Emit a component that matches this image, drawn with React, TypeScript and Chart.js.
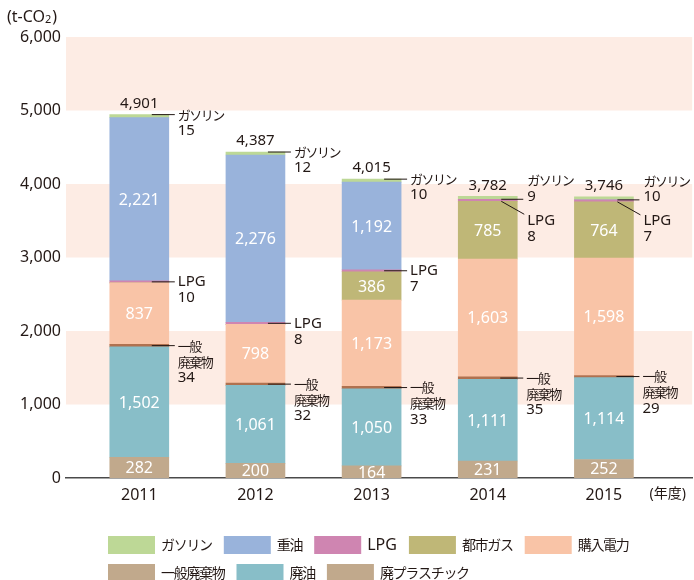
import React, { useEffect, useRef } from 'react';
import { Chart, registerables } from 'chart.js';

Chart.register(...registerables);

// ---- data ----
const years = ['2011', '2012', '2013', '2014', '2015'];
const yearUnit = '(年度)';
const seriesNames = ['廃プラスチック', '廃油', '一般廃棄物', '購入電力', '都市ガス', 'LPG', '重油', 'ガソリン'];
const haiPlastic = [282, 200, 164, 231, 252];
const haiYu = [1502, 1061, 1050, 1111, 1114];
const ippanHaikibutsu = [34, 32, 33, 35, 29];
const kounyuDenryoku = [837, 798, 1173, 1603, 1598];
const toshiGas = [0, 0, 386, 785, 764];
const lpg = [10, 8, 7, 8, 7];
const juyu = [2221, 2276, 1192, 0, 0];
const gasoline = [15, 12, 10, 9, 10];
const totals = [4901, 4387, 4015, 3782, 3746];
const yTickValues = [0, 1000, 2000, 3000, 4000, 5000, 6000];
const bandRanges = [[1000, 2000], [3000, 4000], [5000, 6000]];

// ---- styles ----
const barColors = ['#c1a98c', '#88bec8', '#b0714f', '#f9c4a7', '#bfb777', '#cf85b1', '#99b3db', '#bdd896'];
const legendColors = ['#c1a98c', '#88bec8', '#c1a98c', '#f9c4a7', '#bfb777', '#cf85b1', '#99b3db', '#bdd896'];
const minLengths = [0, 0, 0, 0, 0, 2, 0, 3];
const insideLabelSeries = [0, 1, 3, 4, 6];
const LATIN = '"Noto Sans", "Noto Sans CJK JP", sans-serif';
const CJKF = '"Noto Sans CJK JP", sans-serif';
const TEXT = '#231815';
const CJK_RE = /[\u3000-\u9fff\u30a0-\u30ff\uff00-\uffef]/;

const fmt = (v: number) => v.toLocaleString('en-US');
const seriesData = [haiPlastic, haiYu, ippanHaikibutsu, kounyuDenryoku, toshiGas, lpg, juyu, gasoline];

function drawText(ctx: CanvasRenderingContext2D, text: string, x: number, y: number, size: number, cjkSize: number, spacing: number, align: CanvasTextAlign = 'left', color = TEXT) {
  const isCjk = CJK_RE.test(text);
  ctx.font = isCjk ? `${cjkSize}px ${CJKF}` : `${size}px ${LATIN}`;
  (ctx as any).letterSpacing = isCjk ? `${spacing}px` : '0px';
  ctx.textAlign = align;
  ctx.textBaseline = 'middle';
  ctx.fillStyle = color;
  ctx.fillText(text, x, y);
  const w = ctx.measureText(text).width;
  (ctx as any).letterSpacing = '0px';
  return w;
}

function line(ctx: CanvasRenderingContext2D, x1: number, y1: number, x2: number, y2: number) {
  ctx.beginPath();
  ctx.moveTo(x1, y1);
  ctx.lineTo(x2, y2);
  ctx.strokeStyle = '#231815';
  ctx.lineWidth = 1;
  ctx.stroke();
}

const bandsPlugin = {
  id: 'bands',
  beforeDatasetsDraw(chart: any) {
    const { ctx, chartArea, scales } = chart;
    ctx.save();
    ctx.fillStyle = '#fdece4';
    bandRanges.forEach(([a, b]) => {
      const y1 = scales.y.getPixelForValue(b);
      const y2 = scales.y.getPixelForValue(a);
      ctx.fillRect(chartArea.left, y1, chartArea.right - chartArea.left, y2 - y1);
    });
    ctx.restore();
  },
};

const labelsPlugin = {
  id: 'labels',
  afterDatasetsDraw(chart: any) {
    const { ctx, chartArea } = chart;
    ctx.save();
    // inside values
    insideLabelSeries.forEach((d) => {
      const meta = chart.getDatasetMeta(d);
      meta.data.forEach((el: any, i: number) => {
        const v = seriesData[d][i];
        if (!v) return;
        drawText(ctx, fmt(v), el.x, (el.y + el.base) / 2 + 1, 16, 16, 0, 'center', '#ffffff');
      });
    });
    const gMeta = chart.getDatasetMeta(7);
    const lMeta = chart.getDatasetMeta(5);
    const pMeta = chart.getDatasetMeta(2);
    years.forEach((_, i) => {
      const g: any = gMeta.data[i];
      const l: any = lMeta.data[i];
      const p: any = pMeta.data[i];
      const right = g.x + g.width / 2;
      const tx = right + 9;
      // total
      drawText(ctx, fmt(totals[i]), g.x, g.y - 11, 15, 15, 0, 'center');
      const split = juyu[i] === 0;
      if (!split) {
        const gy = g.y;
        line(ctx, right - 17, gy, right + 6, gy);
        drawText(ctx, seriesNames[7], tx, gy, 15, 13, -1.5);
        drawText(ctx, String(gasoline[i]), tx, gy + 16, 15, 13, -1.5);
        const ly = (l.y + l.base) / 2;
        line(ctx, right - 17, ly, right + 6, ly);
        drawText(ctx, seriesNames[5], tx, ly, 15, 13, -1.5);
        drawText(ctx, String(lpg[i]), tx, ly + 16, 15, 13, -1.5);
      } else {
        const gy = g.base;
        line(ctx, right - 16, gy, right + 6, gy);
        drawText(ctx, seriesNames[7], tx + 1, gy - 19, 15, 13, -1.5);
        drawText(ctx, String(gasoline[i]), tx + 1, gy - 3, 15, 13, -1.5);
        const ly = (l.y + l.base) / 2 + 1;
        line(ctx, right - 16, ly, right + 7, ly + 13);
        drawText(ctx, seriesNames[5], tx + 1, ly + 19, 15, 13, -1.5);
        drawText(ctx, String(lpg[i]), tx + 1, ly + 35, 15, 13, -1.5);
      }
      const py = (p.y + p.base) / 2;
      line(ctx, right - 17, py, right + 6, py);
      drawText(ctx, '一般', tx, py, 15, 13, -1.5);
      drawText(ctx, '廃棄物', tx, py + 16, 15, 13, -1.5);
      drawText(ctx, String(ippanHaikibutsu[i]), tx, py + 32, 15, 13, -1.5);
    });

    // unit title
    ctx.font = `16px ${LATIN}`;
    ctx.textAlign = 'left';
    ctx.textBaseline = 'middle';
    ctx.fillStyle = TEXT;
    let ux = 7;
    const uy = 17;
    ctx.fillText('(t-CO', ux, uy);
    ux += ctx.measureText('(t-CO').width;
    ctx.font = `11px ${LATIN}`;
    ctx.fillText('2', ux, uy + 3);
    ux += ctx.measureText('2').width + 1;
    ctx.font = `16px ${LATIN}`;
    ctx.fillText(')', ux, uy);

    // legend
    const order = [7, 6, 5, 4, 3, 2, 1, 0];
    const rows = [order.slice(0, 5), order.slice(5)];
    rows.forEach((row, r) => {
      let x = chartArea.left + 42;
      const cy = chartArea.bottom + 67 + r * 28;
      row.forEach((d) => {
        ctx.fillStyle = legendColors[d];
        ctx.fillRect(x, cy - 9, 47, 18);
        x += 47 + 6;
        const w = drawText(ctx, seriesNames[d], x, cy, 16, 14, -1.3);
        x += w + 12;
      });
    });
    ctx.restore();
  },
};

export default function App() {
  const ref = useRef<HTMLCanvasElement | null>(null);
  useEffect(() => {
    if (!ref.current) return;
    const xTickValues = [...years.map((_, i) => i), 4.55];
    const chart = new Chart(ref.current, {
      type: 'bar',
      data: {
        datasets: seriesData.map((arr, d) => ({
          label: seriesNames[d],
          data: arr.map((v, i) => ({ x: i, y: v })),
          backgroundColor: barColors[d],
          borderWidth: 0,
          barThickness: 59,
          minBarLength: minLengths[d] || undefined,
        })),
      },
      options: {
        animation: false,
        responsive: true,
        maintainAspectRatio: false,
        devicePixelRatio: 1,
        layout: { padding: { top: 37, left: 0, right: 0, bottom: 0 } },
        plugins: { legend: { display: false }, tooltip: { enabled: false } },
        scales: {
          x: {
            type: 'linear',
            stacked: true,
            offset: false,
            min: -0.631,
            max: 4.76,
            grid: { display: false, drawTicks: false },
            border: { display: true, color: '#4a4a4a', width: 1.5 },
            afterBuildTicks: (scale: any) => {
              scale.ticks = xTickValues.map((v) => ({ value: v }));
            },
            afterFit: (scale: any) => {
              scale.height = 102;
            },
            ticks: {
              autoSkip: false,
              maxRotation: 0,
              padding: 8,
              color: TEXT,
              font: (c: any) => (c.index === years.length ? { size: 14, family: LATIN } : { size: 16, family: LATIN }),
              callback: (_v: any, idx: number) => (idx < years.length ? years[idx] : yearUnit),
            },
          },
          y: {
            stacked: true,
            min: 0,
            max: 6000,
            grid: { display: false, drawTicks: false },
            border: { display: false },
            afterBuildTicks: (scale: any) => {
              scale.ticks = yTickValues.map((v) => ({ value: v }));
            },
            afterFit: (scale: any) => {
              scale.width = 66;
            },
            ticks: {
              padding: 5,
              color: TEXT,
              font: { size: 16, family: LATIN },
              callback: (v: any) => fmt(Number(v)),
            },
          },
        },
      } as any,
      plugins: [bandsPlugin, labelsPlugin],
    });
    return () => chart.destroy();
  }, []);
  return (
    <div style={{ position: 'absolute', left: 0, top: 0, width: 694, height: 580 }}>
      <canvas ref={ref} />
    </div>
  );
}
